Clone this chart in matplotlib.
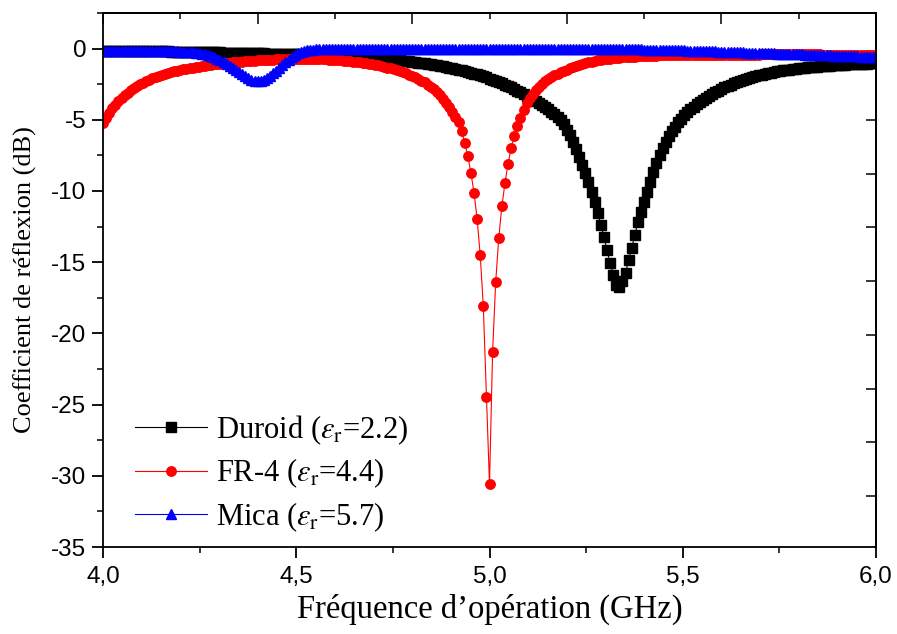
import numpy as np
import matplotlib
matplotlib.use('Agg')
import matplotlib.pyplot as plt
from matplotlib import font_manager
from matplotlib.ticker import MultipleLocator, FuncFormatter

# frequency sweep 4..6 GHz, 251 points (step 0.008 GHz)
freq = np.linspace(4.0, 6.0, 251)

# S11 (dB), rows of 10 points, row start frequency in comment
duroid = [
    -0.15, -0.15, -0.15, -0.15, -0.16, -0.16, -0.16, -0.16, -0.17, -0.17,   # 4.000
    -0.17, -0.17, -0.18, -0.18, -0.18, -0.18, -0.19, -0.19, -0.19, -0.20,   # 4.080
    -0.20, -0.20, -0.21, -0.21, -0.21, -0.22, -0.22, -0.22, -0.23, -0.23,   # 4.160
    -0.24, -0.24, -0.24, -0.25, -0.25, -0.26, -0.26, -0.27, -0.27, -0.28,   # 4.240
    -0.28, -0.29, -0.29, -0.30, -0.30, -0.31, -0.31, -0.32, -0.32, -0.33,   # 4.320
    -0.33, -0.34, -0.34, -0.35, -0.36, -0.36, -0.37, -0.37, -0.38, -0.39,   # 4.400
    -0.39, -0.40, -0.41, -0.41, -0.42, -0.43, -0.44, -0.45, -0.45, -0.46,   # 4.480
    -0.47, -0.48, -0.49, -0.50, -0.51, -0.52, -0.53, -0.54, -0.55, -0.56,   # 4.560
    -0.57, -0.58, -0.60, -0.61, -0.62, -0.64, -0.65, -0.67, -0.68, -0.70,   # 4.640
    -0.71, -0.73, -0.75, -0.77, -0.79, -0.81, -0.83, -0.85, -0.87, -0.90,   # 4.720
    -0.92, -0.95, -0.98, -1.01, -1.04, -1.07, -1.10, -1.14, -1.17, -1.21,   # 4.800
    -1.25, -1.29, -1.33, -1.38, -1.42, -1.47, -1.52, -1.57, -1.63, -1.69,   # 4.880
    -1.75, -1.81, -1.88, -1.95, -2.02, -2.10, -2.18, -2.26, -2.35, -2.44,   # 4.960
    -2.53, -2.63, -2.73, -2.84, -2.95, -3.07, -3.19, -3.31, -3.44, -3.57,   # 5.040
    -3.70, -3.84, -3.98, -4.12, -4.27, -4.43, -4.62, -4.82, -5.04, -5.30,   # 5.120
    -5.70, -6.10, -6.55, -7.05, -7.60, -8.15, -8.75, -9.40, -10.05, -10.75, # 5.200
    -11.55, -12.37, -13.20, -14.15, -15.05, -15.90, -16.60, -16.75, -16.35, -15.75,  # 5.280
    -14.85, -14.00, -13.10, -12.20, -11.45, -10.75, -10.05, -9.35, -8.65, -8.05,     # 5.360
    -7.50, -7.00, -6.55, -6.15, -5.80, -5.48, -5.18, -4.92, -4.68, -4.46,   # 5.440
    -4.26, -4.07, -3.90, -3.74, -3.59, -3.45, -3.32, -3.19, -3.07, -2.96,   # 5.520
    -2.84, -2.73, -2.63, -2.53, -2.44, -2.35, -2.27, -2.19, -2.12, -2.05,   # 5.600
    -1.99, -1.93, -1.87, -1.82, -1.77, -1.72, -1.68, -1.64, -1.60, -1.56,   # 5.680
    -1.53, -1.50, -1.47, -1.44, -1.41, -1.39, -1.36, -1.34, -1.32, -1.30,   # 5.760
    -1.28, -1.26, -1.24, -1.22, -1.21, -1.19, -1.18, -1.16, -1.15, -1.14,   # 5.840
    -1.12, -1.11, -1.10, -1.09, -1.08, -1.07, -1.06, -1.05, -1.04, -1.03,   # 5.920
    -1.02,                                                                  # 6.000
]

fr4 = [
    -5.25, -4.85, -4.50, -4.20, -3.93, -3.69, -3.47, -3.27, -3.09, -2.93,   # 4.000
    -2.78, -2.64, -2.51, -2.39, -2.28, -2.18, -2.09, -2.00, -1.92, -1.85,   # 4.080
    -1.78, -1.72, -1.66, -1.60, -1.55, -1.50, -1.45, -1.41, -1.37, -1.33,   # 4.160
    -1.29, -1.26, -1.22, -1.19, -1.16, -1.13, -1.10, -1.08, -1.05, -1.03,   # 4.240
    -1.01, -0.99, -0.97, -0.95, -0.93, -0.91, -0.89, -0.87, -0.86, -0.84,   # 4.320
    -0.83, -0.81, -0.80, -0.79, -0.78, -0.77, -0.76, -0.75, -0.74, -0.74,   # 4.400
    -0.73, -0.73, -0.72, -0.72, -0.72, -0.72, -0.72, -0.73, -0.73, -0.73,   # 4.480
    -0.74, -0.75, -0.76, -0.77, -0.78, -0.80, -0.81, -0.83, -0.85, -0.87,   # 4.560
    -0.89, -0.92, -0.94, -0.97, -1.00, -1.03, -1.06, -1.10, -1.14, -1.18,   # 4.640
    -1.23, -1.28, -1.33, -1.39, -1.45, -1.51, -1.58, -1.66, -1.74, -1.83,   # 4.720
    -1.92, -2.02, -2.13, -2.25, -2.38, -2.53, -2.69, -2.87, -3.07, -3.29,   # 4.800
    -3.53, -3.80, -4.10, -4.45, -4.80, -5.18, -5.80, -6.63, -7.57, -8.74,   # 4.880
    -10.14, -11.97, -14.50, -18.10, -24.45, -30.60, -21.30, -16.40, -13.30, -11.08,  # 4.960
    -9.44, -8.10, -6.98, -6.16, -5.46, -4.87, -4.29, -3.85, -3.48, -3.17,   # 5.040
    -2.90, -2.67, -2.47, -2.30, -2.14, -2.00, -1.88, -1.77, -1.67, -1.57,   # 5.120
    -1.47, -1.38, -1.29, -1.21, -1.14, -1.07, -1.01, -0.96, -0.91, -0.87,   # 5.200
    -0.83, -0.79, -0.76, -0.73, -0.70, -0.68, -0.66, -0.64, -0.62, -0.60,   # 5.280
    -0.59, -0.57, -0.56, -0.55, -0.54, -0.53, -0.52, -0.51, -0.50, -0.49,   # 5.360
    -0.48, -0.48, -0.47, -0.47, -0.46, -0.46, -0.45, -0.45, -0.45, -0.44,   # 5.440
    -0.44, -0.44, -0.44, -0.43, -0.43, -0.43, -0.43, -0.43, -0.42, -0.42,   # 5.520
    -0.42, -0.42, -0.42, -0.42, -0.42, -0.42, -0.42, -0.42, -0.42, -0.42,   # 5.600
    -0.42, -0.42, -0.42, -0.41, -0.41, -0.41, -0.41, -0.41, -0.41, -0.41,   # 5.680
    -0.41, -0.41, -0.41, -0.41, -0.41, -0.41, -0.41, -0.41, -0.41, -0.41,   # 5.760
    -0.41, -0.41, -0.41, -0.42, -0.42, -0.42, -0.42, -0.42, -0.42, -0.43,   # 5.840
    -0.43, -0.43, -0.43, -0.44, -0.44, -0.44, -0.45, -0.45, -0.45, -0.46,   # 5.920
    -0.46,                                                                  # 6.000
]

mica = [
    -0.14, -0.14, -0.14, -0.14, -0.14, -0.15, -0.15, -0.15, -0.15, -0.15,   # 4.000
    -0.15, -0.15, -0.15, -0.16, -0.16, -0.16, -0.16, -0.17, -0.17, -0.17,   # 4.080
    -0.18, -0.18, -0.19, -0.19, -0.20, -0.21, -0.22, -0.23, -0.25, -0.27,   # 4.160
    -0.29, -0.32, -0.36, -0.41, -0.47, -0.54, -0.62, -0.71, -0.81, -0.92,   # 4.240
    -1.05, -1.19, -1.34, -1.50, -1.65, -1.80, -1.95, -2.08, -2.18, -2.26,   # 4.320
    -2.30, -2.27, -2.18, -2.05, -1.90, -1.73, -1.55, -1.36, -1.16, -0.96,   # 4.400
    -0.77, -0.60, -0.45, -0.33, -0.24, -0.17, -0.12, -0.09, -0.07, -0.06,   # 4.480
    -0.05, -0.05, -0.04, -0.04, -0.04, -0.04, -0.03, -0.03, -0.03, -0.03,   # 4.560
    -0.03, -0.03, -0.03, -0.03, -0.03, -0.03, -0.03, -0.03, -0.03, -0.03,   # 4.640
    -0.03, -0.03, -0.03, -0.03, -0.03, -0.03, -0.03, -0.03, -0.03, -0.03,   # 4.720
    -0.03, -0.03, -0.03, -0.03, -0.03, -0.03, -0.03, -0.03, -0.03, -0.03,   # 4.800
    -0.03, -0.03, -0.03, -0.03, -0.03, -0.03, -0.03, -0.03, -0.03, -0.03,   # 4.880
    -0.03, -0.03, -0.03, -0.03, -0.03, -0.03, -0.03, -0.03, -0.03, -0.03,   # 4.960
    -0.03, -0.03, -0.03, -0.03, -0.03, -0.04, -0.04, -0.04, -0.04, -0.04,   # 5.040
    -0.04, -0.04, -0.04, -0.04, -0.04, -0.04, -0.04, -0.04, -0.04, -0.04,   # 5.120
    -0.04, -0.04, -0.04, -0.04, -0.04, -0.05, -0.05, -0.05, -0.05, -0.05,   # 5.200
    -0.05, -0.05, -0.05, -0.05, -0.05, -0.05, -0.05, -0.05, -0.05, -0.05,   # 5.280
    -0.05, -0.05, -0.06, -0.06, -0.06, -0.07, -0.07, -0.07, -0.08, -0.08,   # 5.360
    -0.09, -0.09, -0.10, -0.10, -0.11, -0.11, -0.12, -0.12, -0.13, -0.14,   # 5.440
    -0.14, -0.15, -0.16, -0.16, -0.17, -0.18, -0.18, -0.19, -0.20, -0.21,   # 5.520
    -0.22, -0.22, -0.23, -0.24, -0.25, -0.25, -0.26, -0.27, -0.28, -0.28,   # 5.600
    -0.29, -0.30, -0.31, -0.31, -0.32, -0.33, -0.34, -0.34, -0.35, -0.36,   # 5.680
    -0.37, -0.38, -0.38, -0.39, -0.40, -0.41, -0.41, -0.42, -0.43, -0.44,   # 5.760
    -0.44, -0.45, -0.46, -0.47, -0.47, -0.48, -0.49, -0.50, -0.50, -0.51,   # 5.840
    -0.52, -0.53, -0.53, -0.54, -0.55, -0.56, -0.56, -0.57, -0.58, -0.59,   # 5.920
    -0.60,                                                                  # 6.000
]

labels = [r'Duroid ($\varepsilon_{\mathrm{r}}$=2.2)',
          r'FR-4 ($\varepsilon_{\mathrm{r}}$=4.4)',
          r'Mica ($\varepsilon_{\mathrm{r}}$=5.7)']

names = {f.name for f in font_manager.fontManager.ttflist}
tick_font = 'Liberation Sans Narrow' if 'Liberation Sans Narrow' in names else 'Liberation Sans'

plt.rcParams['font.family'] = 'Liberation Serif'
plt.rcParams['mathtext.fontset'] = 'stix'
plt.rcParams['axes.unicode_minus'] = False

fig = plt.figure(figsize=(8.97, 6.34), dpi=100)
ax = fig.add_axes([103/897, 87/634, 773/897, 534/634])

ax.plot(freq, duroid, color='black', lw=0.8, marker='s', ms=6.8, mec='black', label=labels[0])
ax.plot(freq, fr4, color='red', lw=0.8, marker='o', ms=6.8, mec='red', label=labels[1])
ax.plot(freq, mica, color='blue', lw=0.8, marker='^', ms=7.2, mec='blue', label=labels[2])

ax.set_xlim(4.0, 6.0)
ax.set_ylim(-35, 2.5)
ax.xaxis.set_major_locator(MultipleLocator(0.5))
ax.xaxis.set_minor_locator(MultipleLocator(0.25))
ax.yaxis.set_major_locator(MultipleLocator(5))
ax.yaxis.set_minor_locator(MultipleLocator(2.5))
ax.xaxis.set_major_formatter(FuncFormatter(lambda v, p: ('%.1f' % v).replace('.', ',')))
ax.yaxis.set_major_formatter(FuncFormatter(lambda v, p: '%d' % round(v)))

for s in ax.spines.values():
    s.set_linewidth(1.3)
ax.tick_params(which='major', direction='out', length=8, width=1.3, top=False, right=False,
               labelsize=17.5, labelfontfamily=tick_font)
ax.tick_params(which='minor', direction='out', length=4, width=1.1, top=False, right=False)
ax.tick_params(axis='x', pad=6)
ax.tick_params(axis='y', pad=4)

# top and right axes: inward ticks, no labels
top = ax.secondary_xaxis('top')
top.xaxis.set_major_locator(MultipleLocator(0.4))
top.xaxis.set_minor_locator(MultipleLocator(0.2))
top.tick_params(which='major', direction='in', length=8, width=1.1, labeltop=False)
top.tick_params(which='minor', direction='in', length=4, width=1.1)
top.spines['top'].set_linewidth(1.3)

right = ax.secondary_yaxis('right')
right.set_yticks([-5.0, -8.78, -12.55, -16.33, -20.1, -23.88, -27.66, -31.43])
right.tick_params(direction='in', length=7, width=1.1, labelright=False)
right.spines['right'].set_linewidth(1.3)

ax.set_xlabel("Fréquence d\u2019opération (GHz)", fontsize=23.5)
ax.set_ylabel('Coefficient de réflexion (dB)', fontsize=19)
ax.xaxis.set_label_coords(0.5, -0.088)
ax.yaxis.set_label_coords(-0.085, 0.5)

ax.legend(loc='lower left', bbox_to_anchor=(0.042, 0.025), frameon=False, fontsize=22,
          handlelength=2.35, handletextpad=0.3, labelspacing=0.32,
          borderaxespad=0, borderpad=0)

fig.savefig('out.png', dpi=100)
